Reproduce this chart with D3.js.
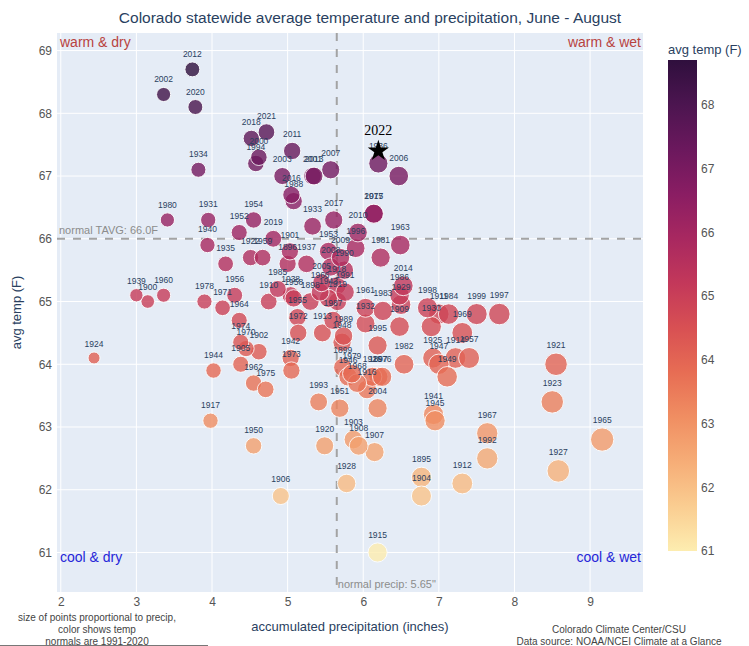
<!DOCTYPE html>
<html>
<head>
<meta charset="utf-8">
<script src="https://cdn.jsdelivr.net/npm/d3@7"></script>
<style>
  body { margin: 0; background: #fff; }
  text { font-family: "Liberation Sans Narrow", "Arial Narrow", "Liberation Sans", Arial, sans-serif; }
  .yr { font-family: "Liberation Sans", Arial, sans-serif; }
  .serif { font-family: "Liberation Serif", "DejaVu Serif", serif; }
</style>
</head>
<body>
<div id="chart"></div>
<script>
// data
var years = [
  1895, 1896, 1897, 1898, 1899, 1900, 1901, 1902, 1903, 1904,
  1905, 1906, 1907, 1908, 1909, 1910, 1911, 1912, 1913, 1914,
  1915, 1916, 1917, 1918, 1919, 1920, 1921, 1922, 1923, 1924,
  1925, 1926, 1927, 1928, 1929, 1930, 1931, 1932, 1933, 1934,
  1935, 1936, 1937, 1938, 1939, 1940, 1941, 1942, 1943, 1944,
  1945, 1946, 1947, 1948, 1949, 1950, 1951, 1952, 1953, 1954,
  1955, 1956, 1957, 1958, 1959, 1960, 1961, 1962, 1963, 1964,
  1965, 1966, 1967, 1968, 1969, 1970, 1971, 1972, 1973, 1974,
  1975, 1976, 1977, 1978, 1979, 1980, 1981, 1982, 1983, 1984,
  1985, 1986, 1987, 1988, 1989, 1990, 1991, 1992, 1993, 1994,
  1995, 1996, 1997, 1998, 1999, 2000, 2001, 2002, 2003, 2004,
  2005, 2006, 2007, 2008, 2009, 2010, 2011, 2012, 2013, 2014,
  2015, 2016, 2017, 2018, 2019, 2020, 2021, 2022
];
var precip = [
  6.77, 5.00, 6.20, 5.30, 5.73, 3.15, 5.03, 4.62, 5.87, 6.77,
  4.38, 4.91, 6.15, 5.94, 6.48, 4.75, 7.00, 7.31, 5.46, 7.22,
  6.19, 6.05, 3.98, 5.65, 5.66, 5.49, 8.55, 4.51, 8.50, 2.44,
  6.92, 6.12, 8.58, 5.78, 6.50, 6.90, 3.95, 6.03, 5.33, 3.82,
  4.18, 6.20, 5.25, 5.04, 3.00, 3.94, 6.93, 5.04, 5.54, 4.02,
  6.95, 5.80, 7.00, 5.72, 7.11, 4.55, 5.69, 4.36, 5.54, 4.55,
  5.13, 4.30, 7.40, 5.08, 4.67, 3.36, 6.03, 4.55, 6.49, 4.36,
  9.16, 5.43, 7.64, 5.92, 7.31, 4.45, 4.14, 5.14, 5.05, 4.38,
  4.71, 6.25, 6.14, 3.90, 5.85, 3.41, 6.23, 6.54, 6.26, 7.13,
  4.87, 6.48, 5.60, 5.08, 5.74, 5.75, 5.76, 7.64, 5.41, 4.58,
  6.19, 5.90, 7.80, 6.85, 7.50, 4.62, 5.33, 3.36, 4.93, 6.19,
  5.45, 6.47, 5.57, 5.57, 5.70, 5.93, 5.06, 3.74, 5.35, 6.53,
  6.14, 5.05, 5.61, 4.52, 4.81, 3.78, 4.72, 6.20
];
var temps = [
  62.2, 65.6, 63.8, 65.0, 63.95, 65.0, 65.8, 64.2, 62.8, 61.9,
  64.0, 61.9, 62.6, 62.7, 64.6, 65.0, 64.8, 62.1, 64.5, 64.1,
  61.0, 63.6, 63.1, 65.25, 65.0, 62.7, 64.0, 65.7, 63.4, 64.1,
  64.1, 63.8, 62.3, 62.1, 64.95, 64.6, 66.3, 64.65, 66.2, 67.1,
  65.6, 67.2, 65.6, 65.1, 65.1, 65.9, 63.2, 64.1, 65.05, 63.9,
  63.1, 63.8, 64.0, 64.35, 63.8, 62.7, 63.3, 66.1, 65.8, 66.3,
  64.75, 65.1, 64.1, 65.05, 65.7, 65.1, 64.9, 63.7, 65.9, 64.7,
  62.8, 65.15, 62.9, 63.7, 64.5, 64.25, 64.9, 64.5, 63.9, 64.35,
  63.6, 63.8, 66.4, 65.0, 63.85, 66.3, 65.7, 64.0, 64.85, 64.8,
  65.2, 65.1, 64.7, 66.6, 64.45, 65.5, 65.15, 62.5, 63.4, 67.2,
  64.3, 65.85, 64.8, 64.9, 64.8, 67.3, 67.0, 68.3, 67.0, 63.3,
  65.3, 67.0, 67.1, 65.55, 65.7, 66.1, 67.4, 68.7, 67.0, 65.25,
  66.4, 66.7, 66.3, 67.6, 66.0, 68.1, 67.7, 67.4
];
var highlightYear = 2022;
var normalTemp = 66.0;
var normalPrecip = 5.65;

var xTicks = [2, 3, 4, 5, 6, 7, 8, 9];
var yTicks = [61, 62, 63, 64, 65, 66, 67, 68, 69];
var cbTicks = [61, 62, 63, 64, 65, 66, 67, 68];

// plotly "matter" colour scale
var matter = ["rgb(253,237,176)", "rgb(250,205,145)", "rgb(246,173,119)", "rgb(240,142,98)",
  "rgb(231,109,84)", "rgb(216,80,83)", "rgb(195,56,90)", "rgb(168,40,96)",
  "rgb(138,29,99)", "rgb(107,24,93)", "rgb(76,21,80)", "rgb(47,15,61)"];

// dimensions
var svgWidth = 749;
var svgHeight = 646;
var plot = { left: 57, right: 643, top: 33, bottom: 592 };

var svg = d3.select("#chart").append("svg")
  .attr("width", svgWidth)
  .attr("height", svgHeight);

var textColor = "#2a3f5f";

// scales
var x = d3.scaleLinear().domain([1.95, 9.70]).range([plot.left, plot.right]);
var y = d3.scaleLinear().domain([60.37, 69.28]).range([plot.bottom, plot.top]);
var r = d3.scaleSqrt().domain([0, 10]).range([0, 12.2]);

var tExt = d3.extent(temps);
var stops = matter.map((c, i) => tExt[0] + i * (tExt[1] - tExt[0]) / (matter.length - 1));
var color = d3.scaleLinear().domain(stops).range(matter);

// plot background + grid
svg.append("rect")
  .attr("x", plot.left).attr("y", plot.top)
  .attr("width", plot.right - plot.left).attr("height", plot.bottom - plot.top)
  .attr("fill", "#e5ecf6");

svg.append("g").selectAll("line").data(xTicks).join("line")
  .attr("x1", d => x(d)).attr("x2", d => x(d))
  .attr("y1", plot.top).attr("y2", plot.bottom)
  .attr("stroke", "#fff").attr("stroke-width", 1);

svg.append("g").selectAll("line").data(yTicks).join("line")
  .attr("x1", plot.left).attr("x2", plot.right)
  .attr("y1", d => y(d)).attr("y2", d => y(d))
  .attr("stroke", "#fff").attr("stroke-width", 1);

// normal lines
svg.append("line")
  .attr("x1", plot.left).attr("x2", plot.right)
  .attr("y1", y(normalTemp)).attr("y2", y(normalTemp))
  .attr("stroke", "#a3a3a3").attr("stroke-width", 2).attr("stroke-dasharray", "8,8");
svg.append("line")
  .attr("x1", x(normalPrecip)).attr("x2", x(normalPrecip))
  .attr("y1", plot.top).attr("y2", plot.bottom)
  .attr("stroke", "#a3a3a3").attr("stroke-width", 2).attr("stroke-dasharray", "8,8");

// points
var data = years.map((yr, i) => ({ year: yr, p: precip[i], t: temps[i] }));
var dots = data.filter(d => d.year !== highlightYear);
var hl = data.find(d => d.year === highlightYear);

svg.append("g").selectAll("circle").data(dots).join("circle")
  .attr("cx", d => x(d.p))
  .attr("cy", d => y(d.t))
  .attr("r", d => r(d.p))
  .attr("fill", d => color(d.t))
  .attr("stroke", "#fff")
  .attr("stroke-width", 1)
  .attr("opacity", 0.8);

svg.append("g").selectAll("text").data(dots).join("text")
  .attr("class", "yr")
  .attr("x", d => x(d.p))
  .attr("y", d => y(d.t) - r(d.p) - 5)
  .attr("text-anchor", "middle")
  .attr("font-size", "8.5px")
  .attr("fill", textColor)
  .text(d => d.year);

// highlighted year as a star
svg.append("path")
  .attr("d", d3.symbol(d3.symbolStar, 140)())
  .attr("transform", `translate(${x(hl.p)},${y(hl.t)})`)
  .attr("fill", "#000");
svg.append("text")
  .attr("class", "serif")
  .attr("x", x(hl.p)).attr("y", y(hl.t) - 16)
  .attr("text-anchor", "middle")
  .attr("font-size", "14px")
  .attr("fill", "#000")
  .text(hl.year);

// axes
var xAxis = svg.append("g")
  .attr("transform", `translate(0,${plot.bottom})`)
  .call(d3.axisBottom(x).tickValues(xTicks).tickSize(0).tickPadding(5));
xAxis.select(".domain").remove();
xAxis.selectAll("text").attr("font-size", "12px").attr("fill", "#555");

var yAxis = svg.append("g")
  .attr("transform", `translate(${plot.left},0)`)
  .call(d3.axisLeft(y).tickValues(yTicks).tickSize(0).tickPadding(5));
yAxis.select(".domain").remove();
yAxis.selectAll("text").attr("font-size", "12px").attr("fill", "#555");

// annotations
svg.append("text").attr("x", 60).attr("y", 47).attr("font-size", "14px").attr("fill", "#b8433f").text("warm & dry");
svg.append("text").attr("x", 641).attr("y", 47).attr("text-anchor", "end").attr("font-size", "14px").attr("fill", "#b8433f").text("warm & wet");
svg.append("text").attr("x", 60).attr("y", 562).attr("font-size", "14px").attr("fill", "#2626d9").text("cool & dry");
svg.append("text").attr("x", 641).attr("y", 562).attr("text-anchor", "end").attr("font-size", "14px").attr("fill", "#2626d9").text("cool & wet");

svg.append("text").attr("x", 59).attr("y", y(normalTemp) - 5).attr("font-size", "11px").attr("fill", "#8c8c8c")
  .text("normal TAVG: " + normalTemp.toFixed(1) + "F");
svg.append("text").attr("x", x(normalPrecip) + 1).attr("y", 588).attr("font-size", "11px").attr("fill", "#8c8c8c")
  .text("normal precip: " + normalPrecip + "\"");

// titles
svg.append("text")
  .attr("x", 370).attr("y", 23)
  .attr("text-anchor", "middle")
  .attr("font-size", "15.5px")
  .attr("fill", textColor)
  .text("Colorado statewide average temperature and precipitation, June - August");

svg.append("text")
  .attr("transform", `translate(21,${(plot.top + plot.bottom) / 2}) rotate(-90)`)
  .attr("text-anchor", "middle")
  .attr("font-size", "13px")
  .attr("fill", textColor)
  .text("avg temp (F)");

svg.append("text")
  .attr("x", (plot.left + plot.right) / 2).attr("y", 631)
  .attr("text-anchor", "middle")
  .attr("font-size", "13px")
  .attr("fill", textColor)
  .text("accumulated precipitation (inches)");

// footnotes
var noteL = ["size of points proportional to precip,", "color shows temp", "normals are 1991-2020"];
svg.append("g").selectAll("text").data(noteL).join("text")
  .attr("x", 97).attr("y", (d, i) => 621 + i * 12)
  .attr("text-anchor", "middle")
  .attr("font-size", "10px")
  .attr("fill", "#444")
  .text(d => d);
svg.append("line").attr("x1", 0).attr("x2", 208).attr("y1", 645.5).attr("y2", 645.5)
  .attr("stroke", "#777").attr("stroke-width", 1);

var noteR = ["Colorado Climate Center/CSU", "Data source: NOAA/NCEI Climate at a Glance"];
svg.append("g").selectAll("text").data(noteR).join("text")
  .attr("x", 619).attr("y", (d, i) => 633 + i * 12)
  .attr("text-anchor", "middle")
  .attr("font-size", "10px")
  .attr("fill", "#444")
  .text(d => d);

// colorbar
var cb = { x: 668, w: 29, top: 60, bottom: 551 };
var cbScale = d3.scaleLinear().domain(tExt).range([cb.bottom, cb.top]);
var grad = svg.append("defs").append("linearGradient")
  .attr("id", "cbgrad").attr("x1", 0).attr("y1", 1).attr("x2", 0).attr("y2", 0);
grad.selectAll("stop").data(matter).join("stop")
  .attr("offset", (d, i) => i / (matter.length - 1))
  .attr("stop-color", d => d);
svg.append("rect")
  .attr("x", cb.x).attr("y", cb.top).attr("width", cb.w).attr("height", cb.bottom - cb.top)
  .attr("fill", "url(#cbgrad)");
var cbAxis = svg.append("g")
  .attr("transform", `translate(${cb.x + cb.w},0)`)
  .call(d3.axisRight(cbScale).tickValues(cbTicks).tickSize(0).tickPadding(4));
cbAxis.select(".domain").remove();
cbAxis.selectAll("text").attr("font-size", "12px").attr("fill", "#555");
svg.append("text").attr("x", cb.x).attr("y", 54).attr("font-size", "13px").attr("fill", textColor).text("avg temp (F)");
</script>
</body>
</html>
